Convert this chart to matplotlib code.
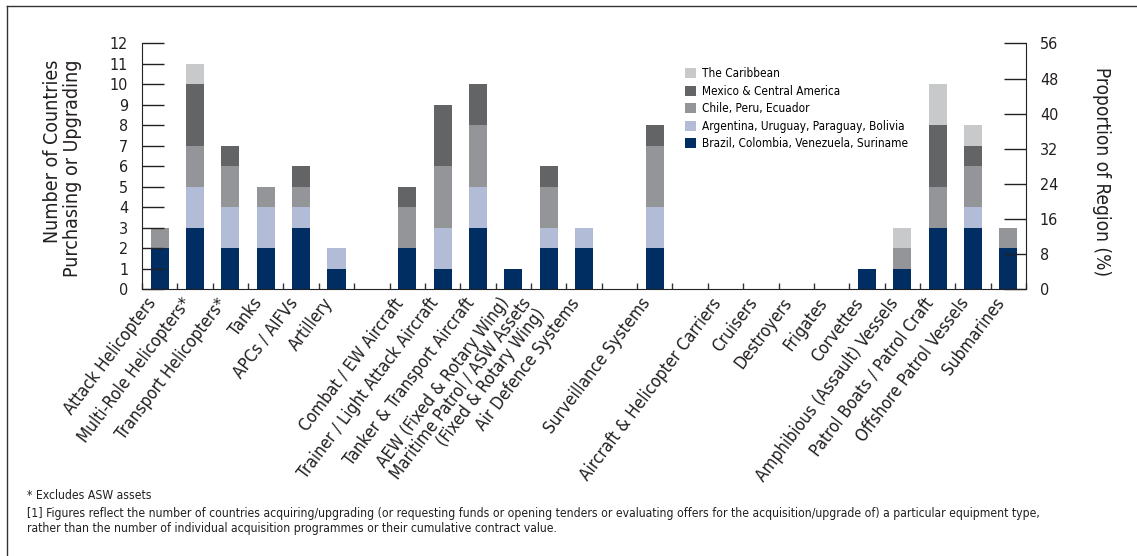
import numpy as np
import matplotlib.pyplot as plt
from matplotlib.lines import Line2D

plt.rcParams['font.family'] = ['DejaVu Sans']
plt.rcParams['font.stretch'] = 'condensed'

# Equipment categories ('' = empty gap slot)
categories = [
    'Attack Helicopters', 'Multi-Role Helicopters*', 'Transport Helicopters*',
    'Tanks', 'APCs / AIFVs', 'Artillery', '',
    'Combat / EW Aircraft', 'Trainer / Light Attack Aircraft',
    'Tanker & Transport Aircraft', 'AEW (Fixed & Rotary Wing)',
    'Maritime Patrol / ASW Assets\n(Fixed & Rotary Wing)', 'Air Defence Systems', '',
    'Surveillance Systems', '',
    'Aircraft & Helicopter Carriers', 'Cruisers', 'Destroyers', 'Frigates',
    'Corvettes', 'Amphibious (Assault) Vessels', 'Patrol Boats / Patrol Craft',
    'Offshore Patrol Vessels', 'Submarines',
]

# number of countries per sub-region
brazil    = [2, 3, 2, 2, 3, 1, 0, 2, 1, 3, 1, 2, 2, 0, 2, 0, 0, 0, 0, 0, 1, 1, 3, 3, 2]
argentina = [0, 2, 2, 2, 1, 1, 0, 0, 2, 2, 0, 1, 1, 0, 2, 0, 0, 0, 0, 0, 0, 0, 0, 1, 0]
chile     = [1, 2, 2, 1, 1, 0, 0, 2, 3, 3, 0, 2, 0, 0, 3, 0, 0, 0, 0, 0, 0, 1, 2, 2, 1]
mexico    = [0, 3, 1, 0, 1, 0, 0, 1, 3, 2, 0, 1, 0, 0, 1, 0, 0, 0, 0, 0, 0, 0, 3, 1, 0]
caribbean = [0, 1, 0, 0, 0, 0, 0, 0, 0, 0, 0, 0, 0, 0, 0, 0, 0, 0, 0, 0, 0, 1, 2, 1, 0]

series_names = ['Brazil, Colombia, Venezuela, Suriname',
                'Argentina, Uruguay, Paraguay, Bolivia',
                'Chile, Peru, Ecuador',
                'Mexico & Central America',
                'The Caribbean']
colors = ['#002d62', '#b3bcd6', '#939598', '#636466', '#c8c9cb']

text_col = '#231f20'

fig = plt.figure(figsize=(11.37, 5.56), dpi=100)
ax = fig.add_axes([0.1249, 0.4802, 0.7775, 0.4416])

x = np.arange(len(categories))
bottom = np.zeros(len(categories))
for vals, name, col in zip([brazil, argentina, chile, mexico, caribbean], series_names, colors):
    ax.bar(x, vals, width=0.51, bottom=bottom, color=col, label=name, linewidth=0)
    bottom += np.array(vals)

ax.set_xlim(-0.5, len(categories) - 0.5)
ax.set_ylim(0, 12)
ax.set_yticks(range(0, 13))
ax.tick_params(axis='y', direction='in', length=16, width=1, labelsize=11.5,
               colors='#222222', labelcolor=text_col, pad=10)
ax.set_xticks(x)
ax.set_xticklabels(categories, rotation=53, ha='right', va='top', fontsize=12.3,
                   color=text_col, linespacing=0.95)
ax.tick_params(axis='x', length=0, pad=4)
ax.set_xticks(np.arange(-0.5, len(categories)), minor=True)
ax.tick_params(axis='x', which='minor', direction='in', length=4.5, width=1, color='#333333')

for s in ['top', 'right']:
    ax.spines[s].set_visible(False)
ax.spines['left'].set_color('#222222')
ax.spines['bottom'].set_color('#222222')

ax.set_ylabel('Number of Countries\nPurchasing or Upgrading', fontsize=14,
              color=text_col, linespacing=1.05, multialignment='right')
ax.yaxis.set_label_coords(-0.068, 0.49)

ax2 = ax.twinx()
ax2.set_ylim(0, 56)
ax2.set_yticks(range(0, 57, 8))
ax2.tick_params(axis='y', direction='in', length=16, width=1, labelsize=11.5,
                colors='#222222', labelcolor=text_col, pad=10)
for s in ['top', 'left', 'bottom']:
    ax2.spines[s].set_visible(False)
ax2.spines['right'].set_color('#222222')
ax2.set_ylabel('Proportion of Region (%)', fontsize=13.7, color=text_col,
               rotation=270, va='bottom')
ax2.yaxis.set_label_coords(1.0747, 0.477)

# legend (top series first)
handles, labels = ax.get_legend_handles_labels()
ax.legend(handles[::-1], labels[::-1], loc='upper left', bbox_to_anchor=(0.609, 0.922),
          frameon=False, fontsize=8.5, handlelength=0.9, handleheight=0.9,
          handletextpad=0.5, labelspacing=0.38, borderaxespad=0)

# footnotes
fig.text(0.024, 0.108, '* Excludes ASW assets', fontsize=8.72, color=text_col, va='center')
fig.text(0.024, 0.0773, '[1] Figures reflect the number of countries acquiring/upgrading (or requesting funds or opening tenders '
         'or evaluating offers for the acquisition/upgrade of) a particular equipment type,', fontsize=8.72,
         color=text_col, va='center')
fig.text(0.024, 0.0486, 'rather than the number of individual acquisition programmes or their cumulative contract value.',
         fontsize=8.72, color=text_col, va='center')

# frame lines (top and left)
fig.add_artist(Line2D([0.0062, 1.0], [0.989, 0.989], transform=fig.transFigure, color='#333333', lw=1))
fig.add_artist(Line2D([0.0062, 0.0062], [0.0, 0.989], transform=fig.transFigure, color='#333333', lw=1))

fig.savefig('out.png', dpi=100)
